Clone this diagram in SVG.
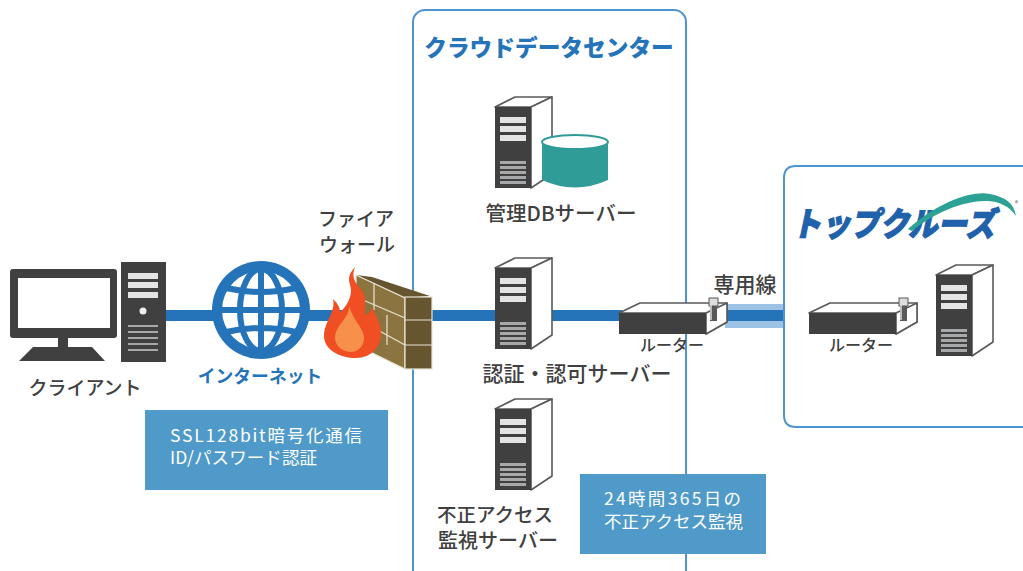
<svg xmlns="http://www.w3.org/2000/svg" xmlns:xlink="http://www.w3.org/1999/xlink" width="1023" height="571" viewBox="0 0 1023 571">
<style>
text{font-family:"Noto Sans CJK JP","Liberation Sans",sans-serif;fill:#404041;font-size:19px;font-weight:500}
.c{text-anchor:middle}
.lg{font-size:20.5px}
.blue{fill:#2573b8;font-weight:700}
.w{fill:#fff;font-size:17.5px;font-weight:400}
.sm{font-size:16px}
.box{fill:#fff;stroke:#4f93cf;stroke-width:2}
.dk{fill:#404041}
.ln{fill:#fff;stroke:#58595b;stroke-width:1.6;stroke-linejoin:round}
.lt{fill:#e4e4e4}
.gr{fill:#a7a8aa}
.brick{fill:#8c7440;stroke:#e8e4d4;stroke-width:1.2}
.brickd{fill:#675530;stroke:#e8e4d4;stroke-width:1.2}
</style>
<defs>
<g id="srv">
<path class="ln" d="M0 0L20-10H57L36 0Z"/>
<path class="ln" d="M36 0L57-10V67L36 81Z"/>
<rect class="dk" width="36" height="81"/>
<rect class="lt" x="5" y="10" width="26" height="6"/><rect class="lt" x="5" y="19" width="26" height="6"/><rect class="lt" x="5" y="28" width="26" height="6"/>
<rect class="gr" x="5" y="54" width="26" height="3"/><rect class="gr" x="5" y="59" width="26" height="3"/><rect class="gr" x="5" y="64" width="26" height="3"/><rect class="gr" x="5" y="69" width="26" height="3"/><rect class="gr" x="5" y="74" width="26" height="3"/>
</g>
<g id="rtr">
<path class="ln" d="M0 0L21-10H108V9L87 21V0Z"/>
<path class="ln" d="M87 0L108-10V9L87 21Z"/>
<rect class="dk" width="87" height="21"/>
<rect x="90" y="-15" width="9" height="8" fill="#ddd" stroke="#58595b"/>
<rect x="91" y="-7" width="7" height="15" fill="#58595b"/>
<path d="M92-9V7" stroke="#ddd" stroke-width="1.5"/>
</g>
</defs>
<g id="frames">
<rect id="datacenter" class="box" x="413" y="10" width="273" height="580" rx="12"/>
</g>
<g id="connectors">
<rect x="725" y="304" width="59" height="24" fill="#9cc3e4"/>
<rect x="165" y="310" width="270" height="11" fill="#2573b8"/>
<rect x="432" y="310" width="190" height="11" fill="#2573b8"/>
<rect x="725" y="310" width="59" height="11" fill="#2573b8"/>
</g>
<g id="topcruise">
<path d="M1024 166H796Q784 166 784 178V415Q784 427 796 427H1024" fill="#fff" stroke="#4f93cf" stroke-width="2"/>
<text x="797" y="236" textLength="203" lengthAdjust="spacingAndGlyphs" transform="translate(45 0) skewX(-12)" style="font-size:33px;font-weight:900;fill:#1f62ab;stroke:#1f62ab;stroke-width:1.2">トップクルーズ</text>
<path d="M908 229C940 200 975 190 990 194C1005 197 1014 203 1016 216C1009 206 1000 202 988 201C965 200 935 212 912 231Z" fill="#2ba294"/>
<text x="1015" y="206" style="font-size:6px">®</text>
</g>
<g id="client">
<rect class="dk" x="10" y="269" width="107" height="69" rx="3"/>
<rect x="18" y="278" width="92" height="50" fill="#fff"/>
<path class="dk" d="M58 338H68V347H92L105 361H19L33 347H58Z"/>
<rect class="dk" x="121" y="262" width="45" height="100"/>
<rect class="lt" x="128" y="273" width="30" height="6"/><rect class="lt" x="128" y="282" width="30" height="6"/><rect class="lt" x="128" y="292" width="30" height="6"/>
<circle cx="143" cy="311" r="3.5" fill="#eee"/>
<rect class="gr" x="128" y="325" width="30" height="2"/><rect class="gr" x="128" y="331" width="30" height="2"/><rect class="gr" x="128" y="337" width="30" height="2"/><rect class="gr" x="128" y="343" width="30" height="2"/><rect class="gr" x="128" y="349" width="30" height="2"/>
<text class="c" x="85" y="395">クライアント</text>
</g>
<g id="internet">
<circle cx="261" cy="310" r="49" fill="#2573b8"/>
<circle cx="261" cy="310" r="39" fill="#fff"/>
<g fill="none" stroke="#2573b8" stroke-width="6">
<ellipse cx="261" cy="310" rx="21" ry="41"/>
<path d="M261 268V352M220 310H302M226 288Q261 296 296 288M226 332Q261 324 296 332"/>
</g>
<text class="c blue" x="260" y="383" style="font-size:17.8px">インターネット</text>
</g>
<g id="firewall">
<path d="M356 275L372 277L430 296L405 298Z" fill="#675530"/>
<path class="brick" d="M356 275L405 298V369L356 345Z"/>
<rect class="brickd" x="405" y="297" width="27" height="72"/>
<path fill="none" stroke="#e8e4d4" stroke-width="1.2" d="M356 297L405 318M356 318L405 345M405 320H432M405 345H432M374 284V310M387 315V345"/>
<path d="M355 267C344 279 352 284 351 292C350 302 343 310 340 312C340 306 336 302 333 299C336 312 324 322 324 336C324 350 340 358 356 358C372 358 381 346 381 334C381 322 375 316 373 308C370 312 368 314 365 315C364 305 368 297 360 288C353 281 352 274 355 267Z" fill="#f04e23"/>
<path d="M349 306C350 318 335 325 335 338C335 346 343 352 351 352C358 352 364 346 364 338C364 328 354 322 349 306Z" fill="#f6904a"/>
<text class="c" x="356" y="226">ファイア</text>
<text class="c" x="357" y="252">ウォール</text>
</g>
<g id="dc-title"><text class="c blue" x="549" y="56" style="font-size:22.7px;font-weight:900">クラウドデータセンター</text></g>
<g id="db-server">
<use xlink:href="#srv" href="#srv" x="495" y="107"/>
<path d="M542 143V180Q575 195 608 180V143Z" fill="#2f9c98"/>
<ellipse cx="575" cy="142" rx="33" ry="7" fill="#fff" stroke="#2f9c98" stroke-width="2"/>
<text class="c lg" x="561" y="221">管理DBサーバー</text>
</g>
<g id="auth-server">
<use xlink:href="#srv" href="#srv" x="495" y="268"/>
<text class="c lg" x="577" y="381" style="font-size:21px">認証・認可サーバー</text>
</g>
<g id="ids-server">
<use xlink:href="#srv" href="#srv" x="495" y="409"/>
<text class="c" x="495" y="522" style="font-size:19.5px">不正アクセス</text>
<text class="c" x="498" y="548" style="font-size:20px">監視サーバー</text>
</g>
<g id="router-dc">
<use xlink:href="#rtr" href="#rtr" x="619" y="313"/>
<text class="c sm" x="672" y="351">ルーター</text>
</g>
<g id="dedicated-label"><text class="c" x="745" y="292" style="font-size:21px">専用線</text></g>
<g id="router-tc">
<use xlink:href="#rtr" href="#rtr" x="809" y="313"/>
<text class="c sm" x="861" y="351">ルーター</text>
</g>
<g id="tc-server"><use xlink:href="#srv" href="#srv" x="936" y="275"/></g>
<g id="note-ssl">
<rect x="145" y="410" width="243" height="80" fill="#4f9ac9"/>
<text class="w" x="170" y="442" textLength="192" lengthAdjust="spacing">SSL128bit暗号化通信</text>
<text class="w" x="170" y="464" textLength="147" lengthAdjust="spacing">ID/パスワード認証</text>
</g>
<g id="note-monitor">
<rect x="580" y="474" width="186" height="80" fill="#4f9ac9"/>
<text class="w" x="604" y="505" textLength="137" lengthAdjust="spacing">24時間365日の</text>
<text class="w" x="604" y="528" textLength="139" lengthAdjust="spacing">不正アクセス監視</text>
</g>
</svg>
